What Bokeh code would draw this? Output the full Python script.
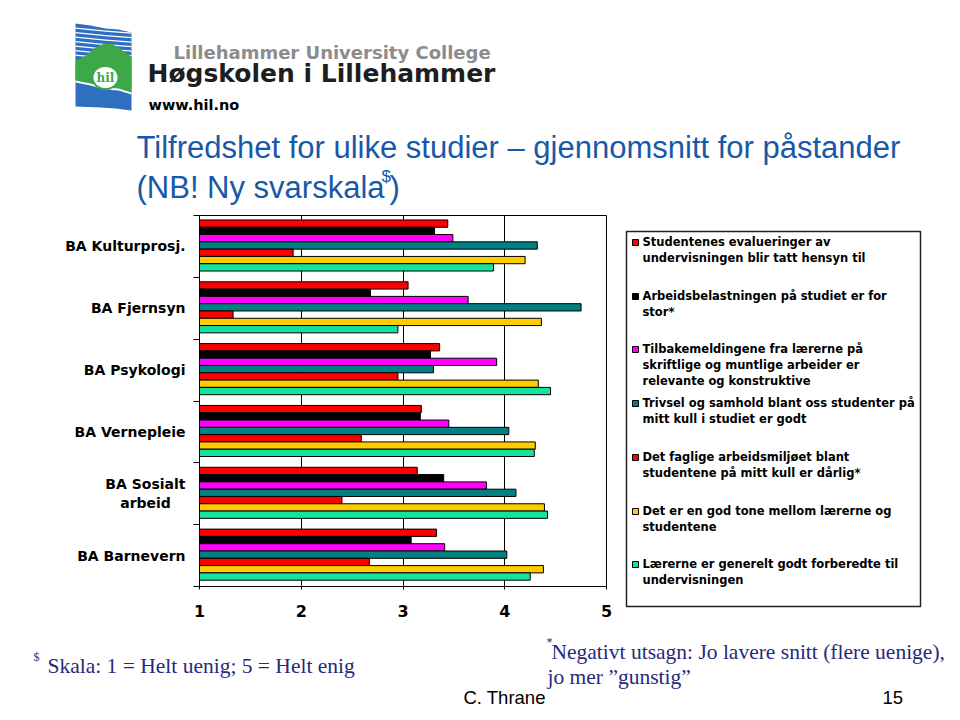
from bokeh.plotting import figure
from bokeh.models import Range1d, FixedTicker, ColumnDataSource
from bokeh.layouts import column, row
from bokeh.core.properties import value
from bokeh.embed import file_html
from bokeh.resources import INLINE

# ---------------- data ----------------
groups = ["BA Kulturprosj.", "BA Fjernsyn", "BA Psykologi", "BA Vernepleie",
          "BA Sosialt\narbeid   ", "BA Barnevern"]
x_ticks = [1, 2, 3, 4, 5]

series_labels = [
    "Studentenes evalueringer av\nundervisningen blir tatt hensyn til",
    "Arbeidsbelastningen på studiet er for\nstor*",
    "Tilbakemeldingene fra lærerne på\nskriftlige og muntlige arbeider er\nrelevante og konstruktive",
    "Trivsel og samhold blant oss studenter på\nmitt kull i studiet er godt",
    "Det faglige arbeidsmiljøet blant\nstudentene på mitt kull er dårlig*",
    "Det er en god tone mellom lærerne og\nstudentene",
    "Lærerne er generelt godt forberedte til\nundervisningen",
]
series_colors = ["#FF0000", "#000000", "#FF00FF", "#008080", "#FF0000", "#FFCC00", "#14E3A0"]

s_evaluering = [3.44, 3.05, 3.36, 3.18, 3.14, 3.33]
s_belastning = [3.31, 2.68, 3.27, 3.17, 3.40, 3.08]
s_tilbakemld = [3.49, 3.64, 3.92, 3.45, 3.82, 3.41]
s_trivsel = [4.32, 4.75, 3.30, 4.04, 4.11, 4.02]
s_fagligdaarlig = [1.92, 1.33, 2.95, 2.59, 2.40, 2.67]
s_godtone = [4.20, 4.36, 4.33, 4.30, 4.39, 4.38]
s_forberedt = [3.89, 2.95, 4.45, 4.29, 4.42, 4.25]
series_values = [s_evaluering, s_belastning, s_tilbakemld, s_trivsel,
                 s_fagligdaarlig, s_godtone, s_forberedt]

title_line1 = "Tilfredshet for ulike studier – gjennomsnitt for påstander"
title_line2 = "(NB! Ny svarskala"
footer_scale = "Skala: 1 = Helt uenig; 5 = Helt enig"
footer_note1 = "Negativt utsagn: Jo lavere snitt (flere uenige),"
footer_note2 = "jo mer ”gunstig”"

# ---------------- geometry ----------------
W, H = 960, 720
HEAD_H = 212
CH_W, CH_H = 620, 414
FOOT_H = H - HEAD_H - CH_H
FL, FR, FT, FB = 199, 606, 215, 586  # frame in page coords

n = len(groups)
nser = len(series_values)
bar_h = 0.118


def no_align(f):
    if hasattr(f, "frame_align"):
        f.frame_align = False
    return f


def deco(w, h, ox, oy):
    f = figure(width=w, height=h, x_range=Range1d(ox, ox + w), y_range=Range1d(oy + h, oy),
               output_backend="svg", toolbar_location=None, title=None,
               min_border=0, min_border_left=0, min_border_right=0,
               min_border_top=0, min_border_bottom=0,
               x_axis_location=None, y_axis_location=None)
    f.xgrid.visible = False
    f.ygrid.visible = False
    f.outline_line_color = None
    f.background_fill_color = "white"
    f.border_fill_color = "white"
    return no_align(f)


def txt(f, s, X, Y, size, color="black", font="DejaVu Sans", style="normal",
        align="left", baseline="middle", lh=1.2):
    f.text(x=[X], y=[Y], text=[s], text_font=value(font), text_font_size=value(f"{size}px"),
           text_font_style=value(style), text_color=color, text_align=align,
           text_baseline=baseline, text_line_height=lh)


# ---------------- chart ----------------
p = figure(width=CH_W, height=CH_H, output_backend="svg", toolbar_location=None, title=None,
           x_range=Range1d(1, 5), y_range=Range1d(0, n),
           min_border_left=FL, min_border_right=CH_W - FR,
           min_border_top=FT - HEAD_H, min_border_bottom=CH_H - (FB - HEAD_H))
no_align(p)
p.background_fill_color = "white"
p.border_fill_color = "white"
p.outline_line_color = "black"
p.outline_line_width = 1

centers = [n - i - 0.5 for i in range(n)]
for k, vals in enumerate(series_values):
    ys = [c + 0.015 + ((nser - 1) / 2 - k) * bar_h for c in centers]
    src = ColumnDataSource(dict(y=ys, right=vals))
    p.hbar(y="y", left=1, right="right", height=bar_h, source=src,
           fill_color=series_colors[k], line_color="black", line_width=1)

p.xaxis.ticker = FixedTicker(ticks=x_ticks)
p.xaxis.major_label_text_font = "DejaVu Sans"
p.xaxis.major_label_text_font_size = "16px"
p.xaxis.major_label_text_font_style = "bold"
p.xaxis.major_label_text_color = "black"
p.xaxis.major_tick_in = 4
p.xaxis.major_tick_out = 3
p.xaxis.major_label_standoff = 15
p.xaxis.minor_tick_line_color = None
p.xaxis.axis_line_color = "black"
p.xaxis.major_tick_line_color = "black"

p.yaxis.ticker = FixedTicker(ticks=centers, minor_ticks=list(range(n + 1)))
p.yaxis.major_label_overrides = {c: g for c, g in zip(centers, groups)}
p.yaxis.major_tick_in = 0
p.yaxis.major_tick_out = 0
p.yaxis.minor_tick_in = 0
p.yaxis.minor_tick_out = 6
p.yaxis.minor_tick_line_color = "black"
p.yaxis.major_label_standoff = 8
p.yaxis.major_label_text_font = "DejaVu Sans"
p.yaxis.major_label_text_font_size = "14px"
p.yaxis.major_label_text_font_style = "bold"
p.yaxis.major_label_text_color = "black"
p.yaxis.axis_line_color = "black"

p.xgrid.ticker = FixedTicker(ticks=x_ticks[1:-1])
p.xgrid.grid_line_color = "black"
p.xgrid.grid_line_width = 1
p.ygrid.grid_line_color = None

# ---------------- legend panel ----------------
lg = deco(W - CH_W, CH_H, CH_W, HEAD_H)
lg.quad(left=[626], right=[920], top=[231], bottom=[606], fill_color="white",
        line_color="#222222", line_width=1.5)
first_line_y = [242, 296, 349, 403, 457, 511, 564]
for k, s in enumerate(series_labels):
    yc = first_line_y[k]
    lg.quad(left=[632], right=[638], top=[yc - 3], bottom=[yc + 3],
            fill_color=series_colors[k], line_color="black", line_width=1)
    txt(lg, s, 642, yc - 7.5, 11.5, style="bold", baseline="top", lh=1.16)

# ---------------- header ----------------
hd = deco(W, HEAD_H, 0, 0)
TBLUE = "#1858A8"
txt(hd, title_line1, 136, 147, 31, color=TBLUE, font="Liberation Sans")
txt(hd, title_line2, 136, 187, 31, color=TBLUE, font="Liberation Sans")
txt(hd, "$", 381, 176, 17, color=TBLUE, font="Liberation Sans")
txt(hd, ")", 389, 187, 31, color=TBLUE, font="Liberation Sans")

# logo
hd.patch([75, 90, 105, 118, 131, 131, 115, 100, 75], [23, 25, 28, 29, 32, 110, 108, 107, 106],
         fill_color="#2F6FC0", line_color=None)
for i in range(7):
    yy = 27 + i * 4.5
    hd.patch([75, 105, 131, 131, 105, 75], [yy, yy + 3, yy + 5, yy + 6.3, yy + 4.3, yy + 1.3],
             fill_color="white", line_color=None)
hd.patch([75, 86, 95, 104, 113, 122, 131, 131, 118, 104, 90, 75],
         [60, 55, 47, 43, 44, 50, 56, 92, 88, 87, 83, 80], fill_color="#3DA847", line_color=None)
hd.patch([75, 90, 104, 118, 131, 131, 118, 104, 90, 75],
         [80, 83, 87, 88, 92, 94, 90, 89, 85, 82], fill_color="white", line_color=None)
hd.ellipse(x=[105], y=[77], width=26, height=23, fill_color="white", line_color="#3DA847", line_width=2)
txt(hd, "hil", 105, 77, 12, color="#3DA847", font="DejaVu Serif", style="bold", align="center")
txt(hd, "Lillehammer University College", 173, 52, 18, color="#8C8C8C", style="bold")
txt(hd, "Høgskolen i Lillehammer", 147, 73, 25, color="#1E1E1E", style="bold")
txt(hd, "www.hil.no", 148, 104, 14.5, color="black", style="bold")

# ---------------- footer ----------------
ft = deco(W, FOOT_H, 0, HEAD_H + CH_H)
NAVY = "#262A7C"
txt(ft, "$", 33, 656, 12, color=NAVY, font="Liberation Serif")
txt(ft, footer_scale, 47, 665, 21.5, color=NAVY, font="Liberation Serif")
txt(ft, "*", 546, 641, 12, color=NAVY, font="Liberation Serif")
txt(ft, footer_note1, 551, 651, 21.5, color=NAVY, font="Liberation Serif")
txt(ft, footer_note2, 547, 676, 21.5, color=NAVY, font="Liberation Serif")
txt(ft, "C. Thrane", 463, 697, 18.5, font="Liberation Sans")
txt(ft, "15", 882, 697, 18.5, font="Liberation Sans")

layout = column(hd, row(p, lg), ft)
open("out.html", "w").write(file_html(layout, INLINE))
